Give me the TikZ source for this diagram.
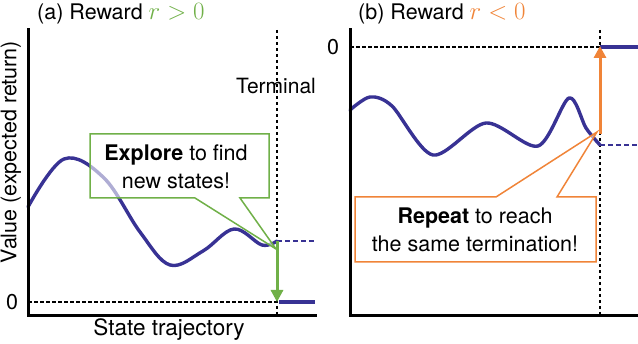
\documentclass[tikz,border=0pt]{standalone}
\usepackage[no-math]{fontspec}
\setmainfont{TeX Gyre Heros}
\usetikzlibrary{arrows.meta}
\definecolor{vblue}{RGB}{56,50,148}
\definecolor{vgreen}{RGB}{112,176,72}
\definecolor{vorange}{RGB}{240,132,56}
\newcommand{\bigmath}[1]{{\fontsize{25}{28}\selectfont$#1$}}
\tikzset{
  axis/.style={line width=3pt, line cap=rect},
  zeroline/.style={line width=1.1pt, dash pattern=on 3.5pt off 2.5pt},
  curve/.style={vblue, line width=3.4pt, line cap=round, line join=round},
  bluedash/.style={vblue, line width=1.4pt, dash pattern=on 5pt off 3pt},
  callout/.style={line width=1.5pt, fill=white, fill opacity=0.6, line join=miter},
  lbl/.style={font=\fontsize{21.5}{26}\selectfont, inner sep=0pt},
  boxtxt/.style={font=\fontsize{21.5}{28}\selectfont, align=center, inner sep=0pt},
  bigarrow/.style={line width=3pt, -{Triangle[length=12pt,width=12pt]}}
}
\begin{document}
\begin{tikzpicture}[x=1pt,y=-1pt]
\useasboundingbox (0,0) rectangle (638,344);
% ---------- panel (a) ----------
\node[lbl, anchor=west] (ta) at (37,14) {(a) Reward \textcolor{vgreen}{\bigmath{r>0}}};
\coordinate (aTop) at (28,30);
\coordinate (aOrig) at (28,316);
\coordinate (aEnd) at (315,316);
\coordinate (aTermTop) at (277,30);
\coordinate (aTermBot) at (277,316);
\coordinate (aZeroL) at (28,302);
\coordinate (aZeroT) at (277,302);
\coordinate (aZeroR) at (315,302);
\coordinate (aCurEnd) at (277,241);
\coordinate (aDashEnd) at (315,241);
\draw[zeroline] (aTermTop) -- (aTermBot);
\draw[zeroline] (aZeroL) -- (aZeroT);
\node[lbl, font=\fontsize{21}{26}\selectfont] (terminal) at (276,86) {Terminal};
\draw[curve] plot[smooth, tension=0.6] coordinates {(28,207) (64,159) (104,178) (140,232) (170,265) (203,251) (234,229) (262,245) (277,241)};
\draw[bluedash] (aCurEnd) -- (aDashEnd);
\draw[curve, line cap=butt] (279,302) -- (aZeroR);
\draw[axis] (aTop) -- (aOrig) -- (aEnd);
\node[lbl] (za) at (12,302) {0};
\node[lbl, rotate=90] (ylab) at (11,152) {Value (expected return)};
\node[lbl, font=\fontsize{22.5}{26}\selectfont] (xlab) at (169,330) {State trajectory};
% callout a
\draw[callout, draw=vgreen] (90,134) -- (269,134) -- (269,198) -- (240,198) -- (276,249) -- (195,198) -- (90,198) -- cycle;
\node[boxtxt] (exp) at (176,167) {\textbf{Explore} to find\\new states!};
\draw[bigarrow, vgreen] (aCurEnd) -- (aZeroT);
% ---------- panel (b) ----------
\node[lbl, anchor=west] (tb) at (358,14) {(b) Reward \textcolor{vorange}{\bigmath{r<0}}};
\coordinate (bTop) at (350,30);
\coordinate (bOrig) at (350,316);
\coordinate (bEnd) at (638,316);
\coordinate (bTermTop) at (600,30);
\coordinate (bTermBot) at (600,316);
\coordinate (bZeroL) at (350,47);
\coordinate (bZeroT) at (600,47);
\coordinate (bZeroR) at (638,47);
\coordinate (bCurEnd) at (600,145);
\coordinate (bDashEnd) at (638,145);
\coordinate (bArrStart) at (600,134);
\draw[zeroline] (bTermTop) -- (bTermBot);
\draw[zeroline] (bZeroL) -- (bZeroT);
\draw[curve] plot[smooth, tension=0.5] coordinates {(350,110) (370,97) (392,106) (433,155) (486,123) (538,146) (569,98) (586,128) (600,145)};
\draw[bluedash] (bCurEnd) -- (bDashEnd);
\draw[curve, line cap=butt] (bZeroT) -- (bZeroR);
\draw[axis] (bTop) -- (bOrig) -- (bEnd);
\node[lbl] (zb) at (333,47) {0};
% callout b
\draw[callout, draw=vorange] (355,197) -- (496,197) -- (597,132) -- (557,197) -- (596,197) -- (596,262) -- (355,262) -- cycle;
\node[boxtxt] (rep) at (475,230) {\textbf{Repeat} to reach\\the same termination!};
\draw[bigarrow, vorange] (bArrStart) -- (600,46);
\end{tikzpicture}
\end{document}
